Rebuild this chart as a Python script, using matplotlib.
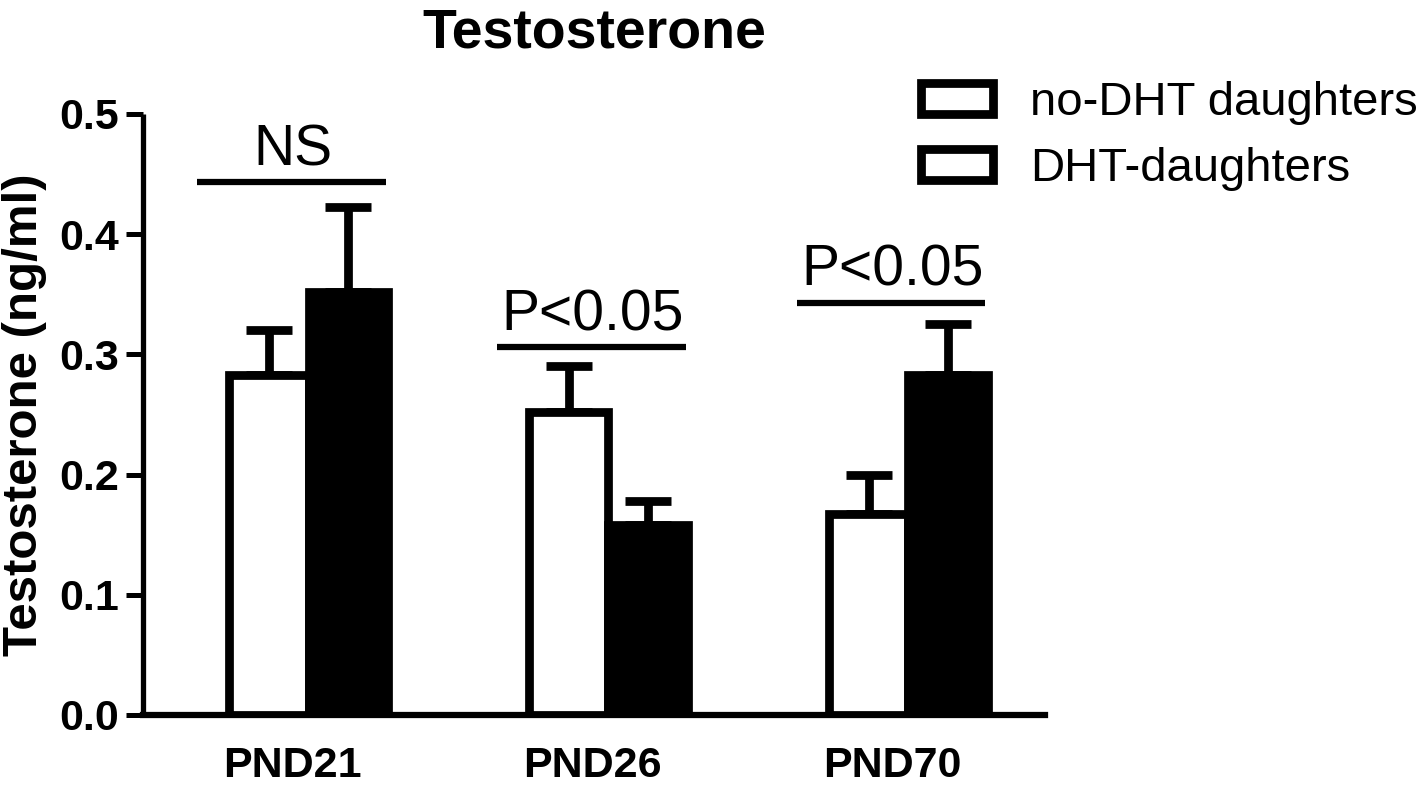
import matplotlib.pyplot as plt
from matplotlib.patches import Patch

# data
groups = ["PND21", "PND26", "PND70"]
no_dht = [0.283, 0.252, 0.167]
no_dht_err = [0.037, 0.038, 0.033]
dht = [0.352, 0.158, 0.283]
dht_err = [0.071, 0.020, 0.042]
series_names = ["no-DHT daughters", "DHT-daughters"]
sig_labels = ["NS", "P<0.05", "P<0.05"]
sig_heights = [0.443, 0.306, 0.343]
yticks = [0.0, 0.1, 0.2, 0.3, 0.4, 0.5]


def main():
    plt.rcParams["font.family"] = ["Liberation Sans", "DejaVu Sans"]
    fig = plt.figure(figsize=(14.28, 7.94), dpi=100)
    ax = fig.add_axes([0.1001, 0.0995, 0.632, 0.7570])

    x = list(range(len(groups)))
    w = 0.265
    lw = 6.3
    xw = [i - 0.08 for i in x]
    xb = [i + 0.185 for i in x]

    ax.errorbar(xw, no_dht, yerr=[[0] * 3, no_dht_err], fmt="none", ecolor="black",
                elinewidth=lw, capsize=16.5, capthick=lw, zorder=1)
    ax.errorbar(xb, dht, yerr=[[0] * 3, dht_err], fmt="none", ecolor="black",
                elinewidth=lw, capsize=16.5, capthick=lw, zorder=1)
    ax.bar(xw, no_dht, width=w, facecolor="white", edgecolor="black", linewidth=lw, zorder=2)
    ax.bar(xb, dht, width=w, facecolor="black", edgecolor="black", linewidth=lw, zorder=2)

    for i in x:
        ax.plot([i - 0.32, i + 0.31], [sig_heights[i], sig_heights[i]], color="black",
                linewidth=4.5, solid_capstyle="butt", clip_on=False)
        ax.text(i, sig_heights[i] + 0.004, sig_labels[i], ha="center", va="bottom",
                fontsize=41)

    ax.set_xlim(-0.5, 2.51)
    ax.set_ylim(0, 0.5)
    ax.set_yticks(yticks)
    ax.set_yticklabels(["%.1f" % v for v in yticks], fontsize=31, fontweight="bold")
    ax.set_xticks(x)
    ax.set_xticklabels(groups, fontsize=31, fontweight="bold")
    ax.tick_params(axis="x", length=0, pad=22)
    ax.tick_params(axis="y", length=12, width=3.6, pad=5)
    ax.spines["top"].set_visible(False)
    ax.spines["right"].set_visible(False)
    ax.spines["left"].set_linewidth(3.8)
    ax.spines["bottom"].set_linewidth(4.5)
    ax.spines["left"].set_capstyle("butt")

    ax.set_ylabel("Testosterone (ng/ml)", fontsize=35.5, fontweight="bold")
    ax.yaxis.set_label_coords(-0.106, 0.5)
    ax.set_title("Testosterone", fontsize=40, fontweight="bold", pad=48)

    handles = [Patch(facecolor="white", edgecolor="black", linewidth=6.3) for _ in series_names]
    fig.legend(handles, series_names, loc="upper left", bbox_to_anchor=(0.645, 0.898),
               frameon=False, fontsize=34, handlelength=1.53, handleheight=0.64,
               handletextpad=0.77, labelspacing=0.46, borderpad=0, borderaxespad=0)

    fig.savefig("out.png", dpi=100)


if __name__ == "__main__":
    main()
